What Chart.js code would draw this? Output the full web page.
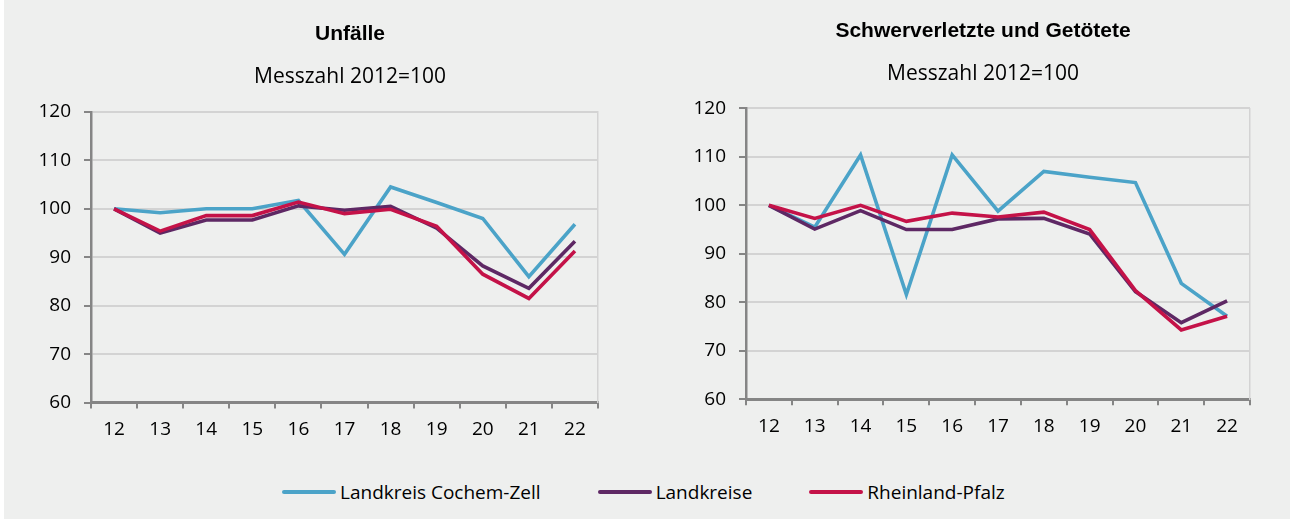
<!DOCTYPE html>
<html lang="de">
<head>
<meta charset="utf-8">
<title>Unfälle / Schwerverletzte und Getötete</title>
<script src="https://cdn.jsdelivr.net/npm/chart.js@4.4.1/dist/chart.umd.min.js"></script>
<style>
    html, body { margin: 0; padding: 0; }
    body { width: 1290px; height: 519px; background: #eeefee; position: relative; overflow: hidden; font-family: 'Open Sans', sans-serif; }
    #strip { position: absolute; left: 0; top: 0; width: 4px; height: 519px; background: #fff; }
    .box { position: absolute; top: 0; height: 460px; }
    #legend { position: absolute; left: 282px; top: 478px; height: 28px; display: flex; align-items: center; font-size: 19px; color: #000; white-space: nowrap; }
    #legend .item { display: flex; align-items: center; margin-right: 57px; }
    #legend .line { width: 54px; height: 4px; border-radius: 2px; margin-right: 4px; }
</style>
</head>
<body>
<div id="strip"></div>
<div class="box" style="left:0;width:700px"><canvas id="chartUnfaelle" width="700" height="460"></canvas></div>
<div class="box" style="left:645px;width:676px"><canvas id="chartSchwer" width="676" height="460"></canvas></div>
<div id="legend"></div>

<script>
// Jahre (20xx)
const years = ['12', '13', '14', '15', '16', '17', '18', '19', '20', '21', '22'];

// Unfälle, Messzahl 2012=100
const unfaelleCochem = [100, 99.2, 100, 100, 101.7, 90.6, 104.5, 101.3, 98.0, 86.0, 96.8];
const unfaelleLandkreise = [100, 95.0, 97.7, 97.7, 100.6, 99.7, 100.5, 96.0, 88.2, 83.6, 93.3];
const unfaelleRlp = [100, 95.4, 98.6, 98.6, 101.4, 99.0, 99.9, 96.4, 86.5, 81.5, 91.3];

// Schwerverletzte und Getötete, Messzahl 2012=100
const schwerCochem = [100, 95.5, 110.4, 81.6, 110.4, 98.8, 107.0, 105.8, 104.7, 83.9, 77.1];
const schwerLandkreise = [100, 95.1, 98.9, 95.0, 95.0, 97.2, 97.3, 94.1, 82.2, 75.8, 80.3];
const schwerRlp = [100, 97.3, 100, 96.7, 98.4, 97.6, 98.6, 95.0, 82.4, 74.3, 77.1];

const seriesNames = ['Landkreis Cochem-Zell', 'Landkreise', 'Rheinland-Pfalz'];
const seriesColors = ['#4ba3c8', '#5e2864', '#c41248'];

const yTicks = { min: 60, max: 120, step: 10 };

const axisColor = '#858585';
const gridColor = '#d3d3d3';

function makeDatasets(values) {
    return values.map((data, i) => ({
        label: seriesNames[i],
        data: data,
        borderColor: seriesColors[i],
        backgroundColor: seriesColors[i],
        borderWidth: 3.6,
        pointRadius: 0,
        tension: 0,
        fill: false,
        order: values.length - i // rot oben
    }));
}

// rightWidth (leere rechte Achse) schiebt die Titelmitte, ohne die Zeichenfläche zu ändern
function createChart(canvasId, title, values, lay) {
    const ctx = document.getElementById(canvasId).getContext('2d');
    return new Chart(ctx, {
        type: 'line',
        data: { labels: years, datasets: makeDatasets(values) },
        options: {
            responsive: false,
            animation: false,
            layout: { padding: { left: 0, right: 0, top: 0, bottom: lay.bottom } },
            plugins: {
                legend: { display: false },
                tooltip: { enabled: false },
                title: {
                    display: true,
                    text: title,
                    color: '#000',
                    font: { family: "'Liberation Sans', Arial, sans-serif", size: 21, weight: 'bold' },
                    padding: { top: lay.titleTop, bottom: lay.titleBottom }
                },
                subtitle: {
                    display: true,
                    text: 'Messzahl 2012=100',
                    color: '#000',
                    font: { family: "'Open Sans', sans-serif", size: 21 },
                    padding: { top: 0, bottom: lay.subBottom }
                }
            },
            scales: {
                x: {
                    offset: true,
                    grid: { display: true, offset: true, drawOnChartArea: false, tickLength: 6, tickColor: axisColor, lineWidth: 2 },
                    border: { color: axisColor, width: 3 },
                    ticks: { color: '#000', font: { family: "'Open Sans', sans-serif", size: 19 }, padding: 10, maxRotation: 0 }
                },
                y: {
                    min: yTicks.min,
                    max: yTicks.max,
                    afterFit: scale => { scale.width = lay.yWidth; },
                    grid: { color: gridColor, lineWidth: 2, tickLength: 7, tickColor: axisColor },
                    border: { color: axisColor, width: 2.5 },
                    ticks: { stepSize: yTicks.step, color: '#000', font: { family: "'Open Sans', sans-serif", size: 19 }, padding: 13 }
                },
                yRight: {
                    position: 'right',
                    min: yTicks.min,
                    max: yTicks.max,
                    afterFit: scale => { scale.width = lay.rightWidth; },
                    grid: { display: false },
                    border: { color: gridColor, width: 1.5 },
                    ticks: { display: false }
                }
            }
        }
    });
}

createChart('chartUnfaelle', 'Unfälle',
    [unfaelleCochem, unfaelleLandkreise, unfaelleRlp],
    { yWidth: 91, rightWidth: 102, bottom: 8.6, titleTop: 21.5, titleBottom: 18, subBottom: 22 });

createChart('chartSchwer', 'Schwerverletzte und Getötete',
    [schwerCochem, schwerLandkreise, schwerRlp],
    { yWidth: 101, rightWidth: 71, bottom: 12, titleTop: 18.5, titleBottom: 18, subBottom: 21.5 });

// Legende für beide Diagramme
const legend = document.getElementById('legend');
seriesNames.forEach((name, i) => {
    const item = document.createElement('div');
    item.className = 'item';
    const line = document.createElement('span');
    line.className = 'line';
    line.style.background = seriesColors[i];
    const txt = document.createElement('span');
    txt.textContent = name;
    item.appendChild(line);
    item.appendChild(txt);
    legend.appendChild(item);
});
</script>
</body>
</html>
